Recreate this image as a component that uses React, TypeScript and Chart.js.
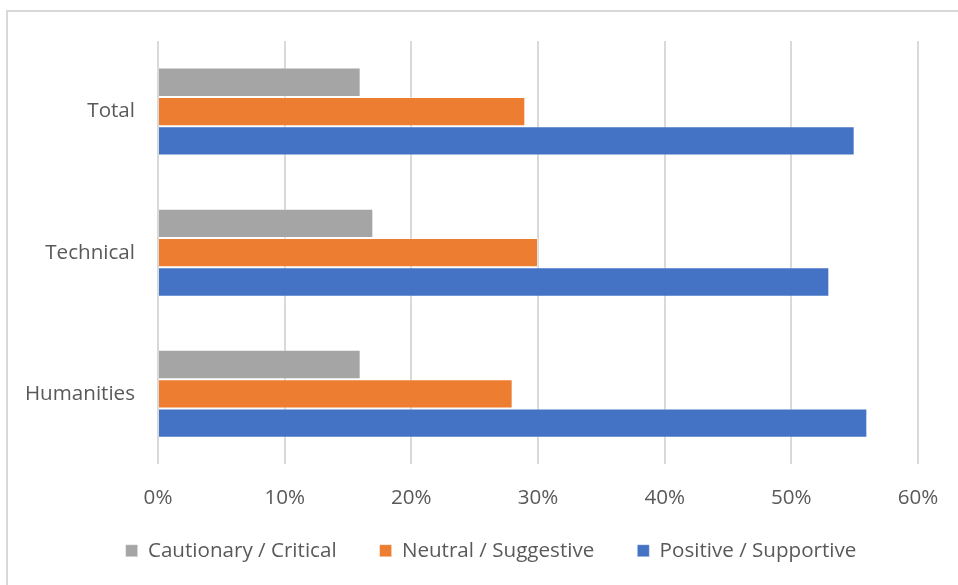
import { useEffect, useRef } from 'react';
import { Chart, registerables } from 'chart.js';

Chart.register(...registerables);

const categories = ['Total', 'Technical', 'Humanities'];
const seriesNames = ['Cautionary / Critical', 'Neutral / Suggestive', 'Positive / Supportive'];
const cautionary = [16, 17, 16];
const neutral = [29, 30, 28];
const positive = [55, 53, 56];
const xMin = 0;
const xMax = 60;
const xStep = 10;

const TEXT = '#595959';
const GRID = '#d9d9d9';
const FONT = '"Open Sans", sans-serif';
const FS = 20.6;

// Legend sits in the layout flow; lift it a little so the large item spacing
// does not push its text down.
const legendLift = {
  id: 'legendLift',
  afterLayout(chart: any) {
    const lg = chart.legend;
    if (lg) {
      lg.top -= 14;
      lg.bottom -= 14;
    }
  },
};

export default function App() {
  const ref = useRef<HTMLCanvasElement | null>(null);

  useEffect(() => {
    if (!ref.current) return;
    const chart = new Chart(ref.current, {
      type: 'bar',
      data: {
        labels: categories,
        datasets: [
          {
            label: seriesNames[0],
            data: cautionary,
            backgroundColor: '#A5A5A5',
            borderColor: 'rgba(255,255,255,0.35)',
            borderWidth: 1,
          },
          {
            label: seriesNames[1],
            data: neutral,
            backgroundColor: '#ED7D31',
            borderColor: 'rgba(255,255,255,0.35)',
            borderWidth: 1,
          },
          {
            label: seriesNames[2],
            data: positive,
            backgroundColor: '#4472C4',
            borderColor: 'rgba(255,255,255,0.35)',
            borderWidth: 1,
          },
        ],
      },
      options: {
        indexAxis: 'y',
        responsive: false,
        animation: false,
        devicePixelRatio: 1,
        datasets: {
          bar: { categoryPercentage: 0.623, barPercentage: 1 },
        },
        layout: { padding: { left: 24, right: 0, top: 41, bottom: 0 } },
        font: { family: FONT, size: FS },
        scales: {
          x: {
            type: 'linear',
            min: xMin,
            max: xMax,
            ticks: {
              stepSize: xStep,
              color: TEXT,
              padding: 21,
              font: { family: FONT, size: FS },
              callback: (v: any) => `${v}%`,
            },
            grid: { color: GRID, lineWidth: 2, drawTicks: false },
            border: { display: false },
            afterFit: (s: any) => {
              s.height = 47;
              s.paddingRight = 40;
            },
          },
          y: {
            type: 'category',
            ticks: {
              color: TEXT,
              padding: 23,
              font: { family: FONT, size: FS },
            },
            grid: { display: false, drawTicks: false },
            border: { display: false },
            afterFit: (s: any) => {
              s.width = 134;
            },
          },
        },
        plugins: {
          legend: {
            position: 'bottom',
            labels: {
              boxWidth: 12,
              boxHeight: 12,
              padding: 43,
              color: TEXT,
              font: { family: FONT, size: FS },
            },
          },
          tooltip: { enabled: false },
        },
      },
      plugins: [legendLift],
    } as any);
    return () => chart.destroy();
  }, []);

  return (
    <div style={{ position: 'fixed', left: 0, top: 0, width: 958, height: 585, background: '#fff' }}>
      <div
        style={{
          position: 'absolute',
          left: 6,
          top: 10,
          width: 952,
          height: 575,
          borderTop: `2px solid ${GRID}`,
          borderLeft: `2px solid ${GRID}`,
          boxSizing: 'border-box',
        }}
      />
      <canvas ref={ref} width={958} height={585} style={{ position: 'absolute', left: 0, top: 0 }} />
    </div>
  );
}
